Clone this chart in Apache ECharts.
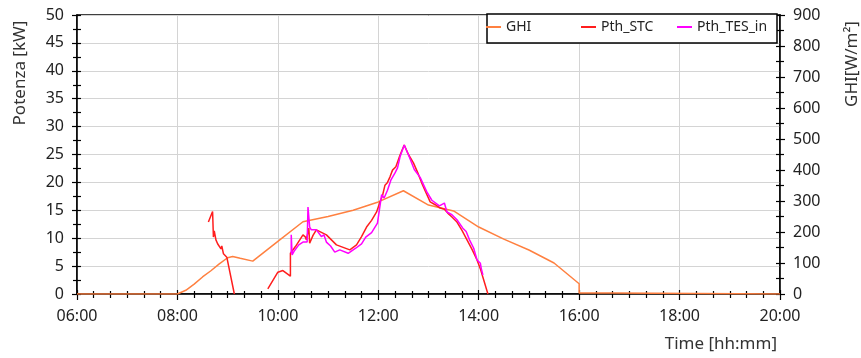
<!DOCTYPE html>
<html><head><meta charset="utf-8">
<script src="https://cdn.jsdelivr.net/npm/echarts@6/dist/echarts.min.js"></script>
<style>html,body{margin:0;padding:0;background:#fff}#c{width:861px;height:358px}</style>
</head><body><div id="c"></div>
<script>
// ---- data ----
const xTickLabels = ['06:00','08:00','10:00','12:00','14:00','16:00','18:00','20:00'];
const seriesNames = ['GHI','Pth_STC','Pth_TES_in'];
const ghiTime = ['06:00','08:00','08:10','08:20','08:30','08:40','08:50','09:00','09:06','09:15','09:30','10:00','10:30','11:00','11:30','12:00','12:30','13:00','13:30','14:00','14:30','15:00','15:30','16:00','16:00','16:40','16:40','20:00'];
const ghiVal  = [0,0,12,32,55,75,97,117,121,115,106,170,233,250,270,297,333,287,268,216,177,142,100,33,3,3,0,0];
const stcTime = ['08:37','08:42','08:43','08:44','08:46','08:48','08:49','08:52','08:53','08:55','08:59','09:00','09:08','09:30','09:48','10:00','10:06','10:15','10:15','10:21','10:30','10:33','10:34','10:37','10:38','10:42','10:46','10:58','11:10','11:26','11:34','11:40','11:46','11:52','11:58','12:02','12:05','12:08','12:11','12:14','12:17','12:21','12:26','12:31','12:36','12:42','12:47','12:53','13:02','13:08','13:14','13:19','13:23','13:28','13:34','13:40','13:46','13:52','13:58','14:02','14:05','14:11'];
const stcVal  = [12.9,14.8,10.2,11.3,9.7,9.0,9.3,8.1,8.6,7.2,6.6,6.8,0,null,0.9,3.9,4.2,3.2,7.3,8.5,10.6,10.2,9.7,11.8,9.1,10.5,11.5,10.6,8.8,7.9,8.8,10.3,12.0,13.2,14.7,16.5,17.6,19.5,20.0,21.0,22.2,22.8,24.9,26.7,25.0,23.5,21.8,19.5,16.5,16.0,15.4,15.2,14.5,13.8,12.9,11.4,9.7,8.0,6.1,4.5,3.0,0];
const tesTime = ['10:16','10:16','10:17','10:20','10:25','10:30','10:35','10:36','10:38','10:40','10:46','10:52','10:55','10:58','11:03','11:08','11:14','11:24','11:33','11:40','11:45','11:52','11:59','12:01','12:04','12:07','12:11','12:15','12:20','12:23','12:26','12:31','12:37','12:43','12:50','12:58','13:04','13:13','13:19','13:22','13:28','13:34','13:41','13:45','13:49','13:54','13:58','14:02','14:03','14:05'];
const tesVal  = [7.3,10.6,7.0,7.8,8.8,9.3,9.3,15.6,12.0,11.5,11.5,10.3,10.6,9.3,8.6,7.5,7.9,7.3,8.2,9.0,10.2,11.0,12.7,13.0,17.8,17.2,18.6,20.4,21.7,22.6,24.6,26.7,24.6,22.3,20.9,18.3,16.8,15.8,16.3,14.7,14.2,13.3,11.8,11.2,9.7,8.2,6.1,5.5,4.6,3.4];

function toMin(s){const p=s.split(':');return (+p[0])*60+(+p[1]);}
function pairs(t,v){return t.map((s,i)=>[toMin(s),v[i]]);}

const FONT = 'Noto Sans';
const txt = '#222';
const gridRect = {left:77, right:81, top:15, bottom:64};

function xAx(grid, inside){
  return {type:'value', gridIndex:grid, min:360, max:1200, interval:120, position:'bottom',
    axisLine:{show:!inside, lineStyle:{color:'#000', width:1.5}},
    axisTick:{show:true, inside:inside, length: inside?4:6, lineStyle:{color:'#000', width:1.2}},
    minorTick:{show:true, splitNumber:6, length: inside?3:4, lineStyle:{color:'#000', width:1.2}},
    axisLabel:{show:!inside, margin:14, fontSize:16, color:txt, fontFamily:FONT,
      formatter:v=>xTickLabels[Math.round((v-360)/120)]},
    splitLine:{show:!inside, lineStyle:{color:'#d4d4d4', width:1}},
    minorSplitLine:{show:false},
    name: inside? '' : 'Time [hh:mm]', nameLocation:'end', nameGap:-3,
    nameTextStyle:{fontSize:17, color:'#333', fontFamily:FONT, align:'right', verticalAlign:'top', padding:[42,0,0,0]}
  };
}
function yAx(grid, pos, max, step, inside, split){
  return {type:'value', gridIndex:grid, position:pos, min:0, max:max, interval:step,
    axisLine:{show:!inside, lineStyle:{color:'#000', width:1.5}},
    axisTick:{show:true, inside:inside, length:inside?4:5, lineStyle:{color:'#000', width:1.2}},
    minorTick:{show:true, splitNumber:2, length:4, lineStyle:{color:'#000', width:1.2}},
    axisLabel:{show:!inside, margin:13, fontSize:16, color:txt, fontFamily:FONT},
    splitLine:{show:split, lineStyle:{color:'#d4d4d4', width:1}}
  };
}
const legendLefts = [486, 581, 677];
function leg(i){
  return {left:legendLefts[i], top:20, padding:0, z:20, icon:'rect', itemWidth:15, itemHeight:2,
    textStyle:{fontSize:14, color:txt, fontFamily:FONT}, data:[seriesNames[i]]};
}

const chart = echarts.init(document.getElementById('c'), null, {renderer:'canvas'});
chart.setOption({
  animation:false,
  backgroundColor:'#fff',
  grid:[Object.assign({show:true, borderColor:'#000', borderWidth:1.5, backgroundColor:'transparent'}, gridRect),
        Object.assign({show:false}, gridRect)],
  xAxis:[xAx(0,false), xAx(1,true)],
  yAxis:[yAx(0,'left',50,5,false,true), yAx(0,'right',900,100,false,false),
         yAx(1,'left',50,5,true,false), yAx(1,'right',900,100,true,false)],
  legend:[leg(0), leg(1), leg(2)],
  graphic:[
    {type:'rect', z:10, shape:{x:487, y:14, width:290, height:29}, style:{fill:'#fff', stroke:'#000', lineWidth:1.5}},
    {type:'text', x:20, y:73, rotation:Math.PI/2, style:{text:'Potenza [kW]', fontSize:17, fontFamily:FONT, fill:'#333', align:'center', verticalAlign:'middle'}},
    {type:'text', x:852, y:64, rotation:Math.PI/2, style:{text:'GHI[W/m²]', fontSize:17, fontFamily:FONT, fill:'#333', align:'center', verticalAlign:'middle'}}
  ],
  series:[
    {name:seriesNames[0], type:'line', xAxisIndex:0, yAxisIndex:1, symbol:'none', data:pairs(ghiTime,ghiVal),
     lineStyle:{color:'#FF8040', width:1.5}, itemStyle:{color:'#FF8040'}, z:3},
    {name:seriesNames[1], type:'line', xAxisIndex:0, yAxisIndex:0, symbol:'none', connectNulls:false, data:pairs(stcTime,stcVal),
     lineStyle:{color:'#FF1E1E', width:1.5}, itemStyle:{color:'#FF1E1E'}, z:4},
    {name:seriesNames[2], type:'line', xAxisIndex:0, yAxisIndex:0, symbol:'none', data:pairs(tesTime,tesVal),
     lineStyle:{color:'#FF00FF', width:1.5}, itemStyle:{color:'#FF00FF'}, z:5}
  ]
});
</script></body></html>
